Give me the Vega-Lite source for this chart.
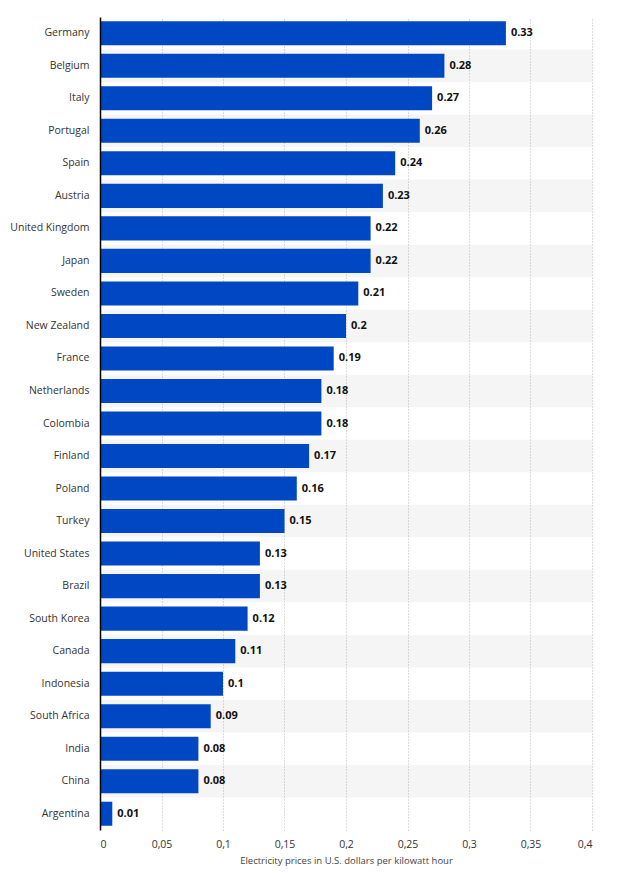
{
  "$schema": "https://vega.github.io/schema/vega-lite/v6.json",
  "autosize": {"type": "none"},
  "padding": {"left": 100, "top": 17, "right": 28, "bottom": 44},
  "width": 492,
  "height": 813,
  "background": "white",
  "config": {"view": {"stroke": null}, "font": "Open Sans"},
  "data": {"values": [
    {"country": "Germany", "price": 0.33},
    {"country": "Belgium", "price": 0.28},
    {"country": "Italy", "price": 0.27},
    {"country": "Portugal", "price": 0.26},
    {"country": "Spain", "price": 0.24},
    {"country": "Austria", "price": 0.23},
    {"country": "United Kingdom", "price": 0.22},
    {"country": "Japan", "price": 0.22},
    {"country": "Sweden", "price": 0.21},
    {"country": "New Zealand", "price": 0.2},
    {"country": "France", "price": 0.19},
    {"country": "Netherlands", "price": 0.18},
    {"country": "Colombia", "price": 0.18},
    {"country": "Finland", "price": 0.17},
    {"country": "Poland", "price": 0.16},
    {"country": "Turkey", "price": 0.15},
    {"country": "United States", "price": 0.13},
    {"country": "Brazil", "price": 0.13},
    {"country": "South Korea", "price": 0.12},
    {"country": "Canada", "price": 0.11},
    {"country": "Indonesia", "price": 0.1},
    {"country": "South Africa", "price": 0.09},
    {"country": "India", "price": 0.08},
    {"country": "China", "price": 0.08},
    {"country": "Argentina", "price": 0.01}
  ]},
  "transform": [{"window": [{"op": "row_number", "as": "idx"}]}],
  "encoding": {
    "y": {
      "field": "country", "type": "nominal", "sort": null,
      "scale": {"paddingInner": 0, "paddingOuter": 0},
      "axis": {
        "title": null, "ticks": false, "domain": true, "domainColor": "#000", "domainWidth": 1.5,
        "labelPadding": 11, "labelFontSize": 10.5, "labelColor": "#333", "labelFont": "Open Sans"
      }
    }
  },
  "layer": [
    {
      "mark": {"type": "rect"},
      "encoding": {
        "x": {"datum": 0, "type": "quantitative"},
        "x2": {"datum": 0.4},
        "fill": {"condition": {"test": "datum.idx % 2 == 0", "value": "#000000"}, "value": "#ffffff"},
        "fillOpacity": {"condition": {"test": "datum.idx % 2 == 0", "value": 0.04}, "value": 0}
      }
    },
    {
      "mark": {"type": "bar", "color": "#0047c4", "height": {"band": 0.74}},
      "encoding": {
        "x": {
          "field": "price", "type": "quantitative",
          "scale": {"domain": [0, 0.4], "nice": false},
          "axis": {
            "values": [0, 0.05, 0.1, 0.15, 0.2, 0.25, 0.3, 0.35, 0.4],
            "labelExpr": "replace(format(datum.value, ''), '.', ',')",
            "title": "Electricity prices in U.S. dollars per kilowatt hour",
            "titleFontSize": 9.5, "titleFontWeight": "normal", "titleColor": "#444", "titlePadding": 6,
            "labelFontSize": 10.5, "labelColor": "#333", "labelPadding": 9,
            "domain": false, "ticks": false,
            "grid": true, "gridColor": "#bbbbbb", "gridDash": [1, 2], "gridWidth": 1
          }
        }
      }
    },
    {
      "mark": {"type": "text", "align": "left", "dx": 5, "fontWeight": "bold", "fontSize": 11, "color": "#111"},
      "encoding": {
        "x": {"field": "price", "type": "quantitative"},
        "text": {"field": "price", "type": "quantitative"}
      }
    }
  ]
}
